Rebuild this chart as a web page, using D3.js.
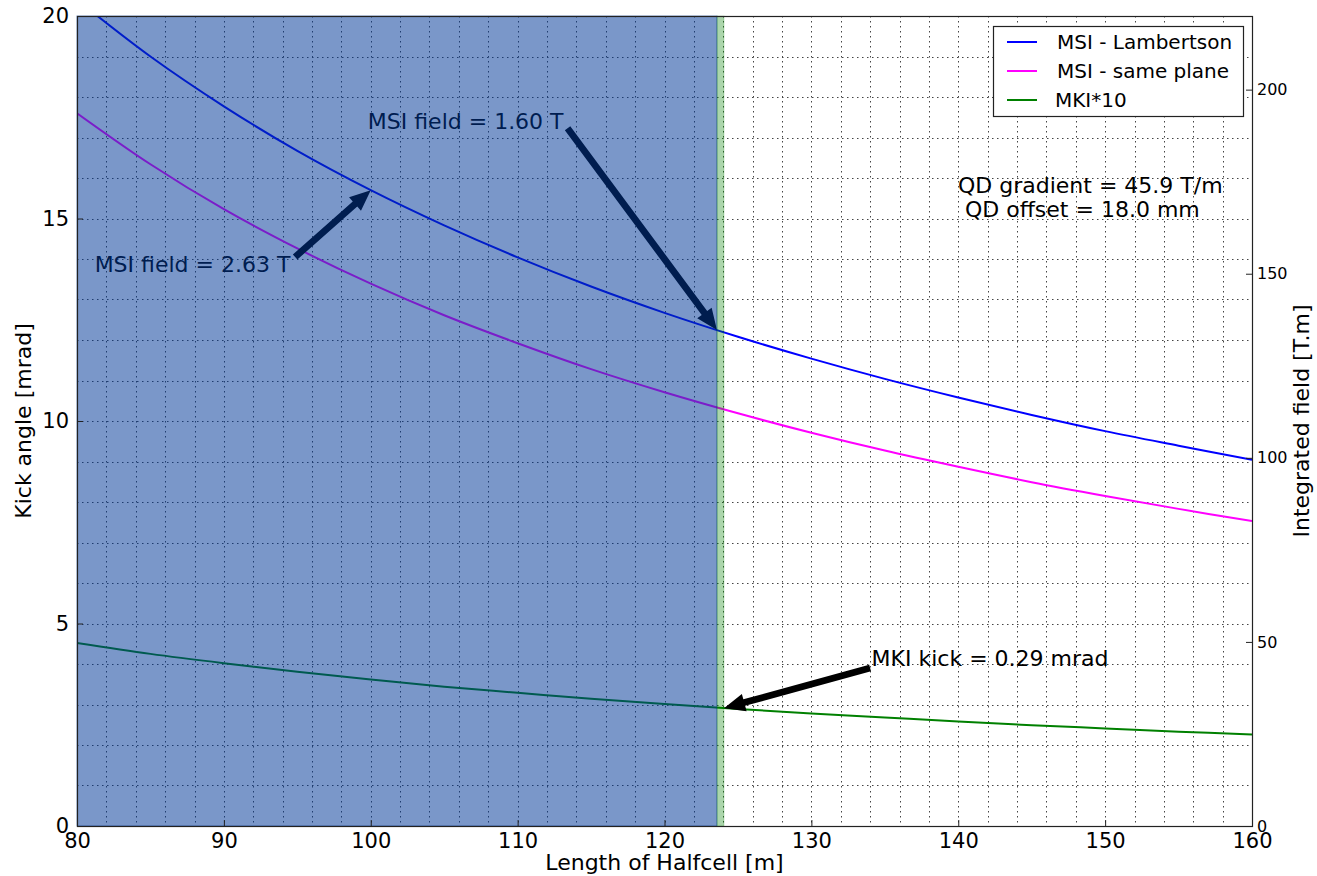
<!DOCTYPE html>
<html>
<head>
<meta charset="utf-8">
<script src="https://cdn.jsdelivr.net/npm/d3@7"></script>
<style>
  body { margin: 0; background: #fff; }
  text { font-family: "DejaVu Sans", sans-serif; fill: #000; }
</style>
</head>
<body>
<div id="chart"></div>
<script>
// halfcell length [m]
var lengths = [80, 85, 90, 95, 100, 105, 110, 115, 120, 125, 130, 135, 140, 145, 150, 155, 160];
// kick angles [mrad]
var msiLambertson = [20.40, 19.00, 17.77, 16.67, 15.70, 14.83, 14.04, 13.32, 12.67, 12.08, 11.54, 11.04, 10.58, 10.15, 9.75, 9.39, 9.04];
var msiSamePlane  = [17.60, 16.34, 15.23, 14.26, 13.39, 12.61, 11.92, 11.28, 10.71, 10.19, 9.71, 9.27, 8.87, 8.49, 8.15, 7.83, 7.53];
var mki10         = [4.52, 4.25, 4.02, 3.81, 3.62, 3.44, 3.29, 3.14, 3.01, 2.89, 2.78, 2.68, 2.58, 2.49, 2.41, 2.33, 2.26];

var xTicks = [80, 90, 100, 110, 120, 130, 140, 150, 160];
var yTicks = [0, 5, 10, 15, 20];
var yRightTicks = [0, 50, 100, 150, 200];

// shaded ranges in halfcell length
var msiRange = [80, 123.57];
var mkiRange = [123.57, 124.05];

// annotations: [text, text x, text y, arrow tail x, tail y, head x, head y] in data units
var notes = [
  ['MSI field = 2.63 T', 81.2, 13.68, 94.85, 14.05, 100, 15.70],
  ['MSI field = 1.60 T', 99.8, 17.22, 113.4, 17.23, 123.57, 12.25],
  ['MKI kick = 0.29 mrad', 134.1, 3.95, 134.0, 3.90, 124.05, 2.91]
];

var width = 1317, height = 876;
var pLeft = 77, pRight = 1252, pTop = 16, pBottom = 826;

var x = d3.scaleLinear().domain([80, 160]).range([pLeft, pRight]);
var y = d3.scaleLinear().domain([0, 20]).range([pBottom, pTop]);
var yR = d3.scaleLinear().domain([0, 220]).range([pBottom, pTop]);

var svg = d3.select('#chart')
  .append('svg')
  .attr('width', width)
  .attr('height', height);

svg.append('defs').append('clipPath').attr('id', 'plot')
  .append('rect')
  .attr('x', pLeft).attr('y', pTop)
  .attr('width', pRight - pLeft).attr('height', pBottom - pTop);

// grid
var grid = svg.append('g').attr('stroke', '#444').attr('stroke-width', 1)
  .attr('stroke-dasharray', '1.5,3.5');
grid.selectAll('.vg')
  .data(d3.range(82, 160, 2))
  .enter().append('line')
  .attr('x1', function(d) { return Math.round(x(d)) + 0.5; })
  .attr('x2', function(d) { return Math.round(x(d)) + 0.5; })
  .attr('y1', pTop).attr('y2', pBottom);
grid.selectAll('.hg')
  .data(d3.range(1, 20, 1))
  .enter().append('line')
  .attr('y1', function(d) { return Math.round(y(d)) + 0.5; })
  .attr('y2', function(d) { return Math.round(y(d)) + 0.5; })
  .attr('x1', pLeft).attr('x2', pRight);

var line = d3.line()
  .x(function(d, i) { return x(lengths[i]); })
  .y(function(d) { return y(d); })
  .curve(d3.curveCatmullRom);

var series = [
  {name: 'MSI - Lambertson', values: msiLambertson, color: '#0000ff'},
  {name: 'MSI - same plane', values: msiSamePlane, color: '#ff00ff'},
  {name: 'MKI*10', values: mki10, color: '#008000'}
];

var plot = svg.append('g').attr('clip-path', 'url(#plot)');
plot.selectAll('.series')
  .data(series)
  .enter().append('path')
  .attr('fill', 'none')
  .attr('stroke', function(d) { return d.color; })
  .attr('stroke-width', 2)
  .attr('d', function(d) { return line(d.values); });

// arrows with text
function arrowPath(x0, y0, x1, y1) {
  var dx = x1 - x0, dy = y1 - y0;
  var len = Math.sqrt(dx * dx + dy * dy);
  var ux = dx / len, uy = dy / len, nx = -uy, ny = ux;
  var hl = 21, hw = 9, sw = 3.4;
  var bx = x1 - ux * hl, by = y1 - uy * hl;
  var pts = [
    [x0 + nx * sw, y0 + ny * sw],
    [bx + nx * sw, by + ny * sw],
    [bx + nx * hw, by + ny * hw],
    [x1, y1],
    [bx - nx * hw, by - ny * hw],
    [bx - nx * sw, by - ny * sw],
    [x0 - nx * sw, y0 - ny * sw]
  ];
  return 'M' + pts.map(function(p) { return p.join(','); }).join('L') + 'Z';
}

var ann = svg.append('g');
ann.selectAll('.arrow')
  .data(notes)
  .enter().append('path')
  .attr('fill', '#000')
  .attr('d', function(d) { return arrowPath(x(d[3]), y(d[4]), x(d[5]), y(d[6])); });
ann.selectAll('.note')
  .data(notes)
  .enter().append('text')
  .attr('x', function(d) { return x(d[1]); })
  .attr('y', function(d) { return y(d[2]); })
  .style('font-size', '22px')
  .text(function(d) { return d[0]; });

// shaded spans drawn over the curves
svg.append('rect')
  .attr('x', x(msiRange[0])).attr('y', pTop)
  .attr('width', x(msiRange[1]) - x(msiRange[0]))
  .attr('height', pBottom - pTop)
  .attr('fill', 'rgb(0,56,152)').attr('fill-opacity', 0.52)
  .attr('stroke', 'rgb(0,56,152)').attr('stroke-opacity', 0.5).attr('stroke-width', 1);
svg.append('rect')
  .attr('x', x(mkiRange[0])).attr('y', pTop)
  .attr('width', x(mkiRange[1]) - x(mkiRange[0]))
  .attr('height', pBottom - pTop)
  .attr('fill', 'rgb(0,128,0)').attr('fill-opacity', 0.33)
  .attr('stroke', 'rgb(0,128,0)').attr('stroke-opacity', 0.2).attr('stroke-width', 1);

// frame
svg.append('rect')
  .attr('x', pLeft + 0.5).attr('y', pTop + 0.5)
  .attr('width', pRight - pLeft).attr('height', pBottom - pTop)
  .attr('fill', 'none').attr('stroke', '#222').attr('stroke-width', 1.2);

// axes, ticks inside
var xAxis = d3.axisBottom(x).tickValues(xTicks).tickSizeInner(-6).tickSizeOuter(0).tickPadding(7);
var yAxis = d3.axisLeft(y).tickValues(yTicks).tickSizeInner(-6).tickSizeOuter(0).tickPadding(8);
var yRAxis = d3.axisRight(yR).tickValues(yRightTicks).tickSizeInner(-6).tickSizeOuter(0).tickPadding(5);

var gx = svg.append('g').attr('transform', 'translate(0,' + pBottom + ')').call(xAxis);
var gy = svg.append('g').attr('transform', 'translate(' + pLeft + ',0)').call(yAxis);
var gr = svg.append('g').attr('transform', 'translate(' + pRight + ',0)').call(yRAxis);
[gx, gy, gr].forEach(function(g) {
  g.select('.domain').remove();
  g.selectAll('line').attr('stroke', '#222');
  g.selectAll('text').attr('fill', '#000').style('font-family', '"DejaVu Sans", sans-serif');
});
gx.selectAll('text').style('font-size', '21px');
gy.selectAll('text').style('font-size', '21px');
gr.selectAll('text').style('font-size', '16px');

svg.append('text')
  .attr('x', (pLeft + pRight) / 2).attr('y', 870)
  .attr('text-anchor', 'middle')
  .style('font-size', '22px')
  .text('Length of Halfcell [m]');
svg.append('text')
  .attr('transform', 'translate(31,' + ((pTop + pBottom) / 2) + ') rotate(-90)')
  .attr('text-anchor', 'middle')
  .style('font-size', '22px')
  .text('Kick angle [mrad]');
svg.append('text')
  .attr('transform', 'translate(1309,' + ((pTop + pBottom) / 2) + ') rotate(-90)')
  .attr('text-anchor', 'middle')
  .style('font-size', '22px')
  .text('Integrated field [T.m]');

// QD info
svg.append('text').attr('x', 958).attr('y', 193).style('font-size', '22px')
  .text('QD gradient = 45.9 T/m');
svg.append('text').attr('x', 965).attr('y', 217).style('font-size', '22px')
  .text('QD offset = 18.0 mm');

// legend
var legend = svg.append('g').attr('transform', 'translate(993,26)');
legend.append('rect')
  .attr('x', 0.5).attr('y', 0.5).attr('width', 250).attr('height', 90)
  .attr('fill', '#fff').attr('stroke', '#222').attr('stroke-width', 1.2);
var item = legend.selectAll('.item')
  .data(series)
  .enter().append('g')
  .attr('transform', function(d, i) { return 'translate(0,' + (16 + i * 29) + ')'; });
item.append('line')
  .attr('x1', 14).attr('x2', 44)
  .attr('stroke', function(d) { return d.color; })
  .attr('stroke-width', 2);
item.append('text')
  .attr('x', function(d, i) { return i < 2 ? 64 : 62; })
  .attr('y', 7)
  .style('font-size', '20px')
  .text(function(d) { return d.name; });
</script>
</body>
</html>
